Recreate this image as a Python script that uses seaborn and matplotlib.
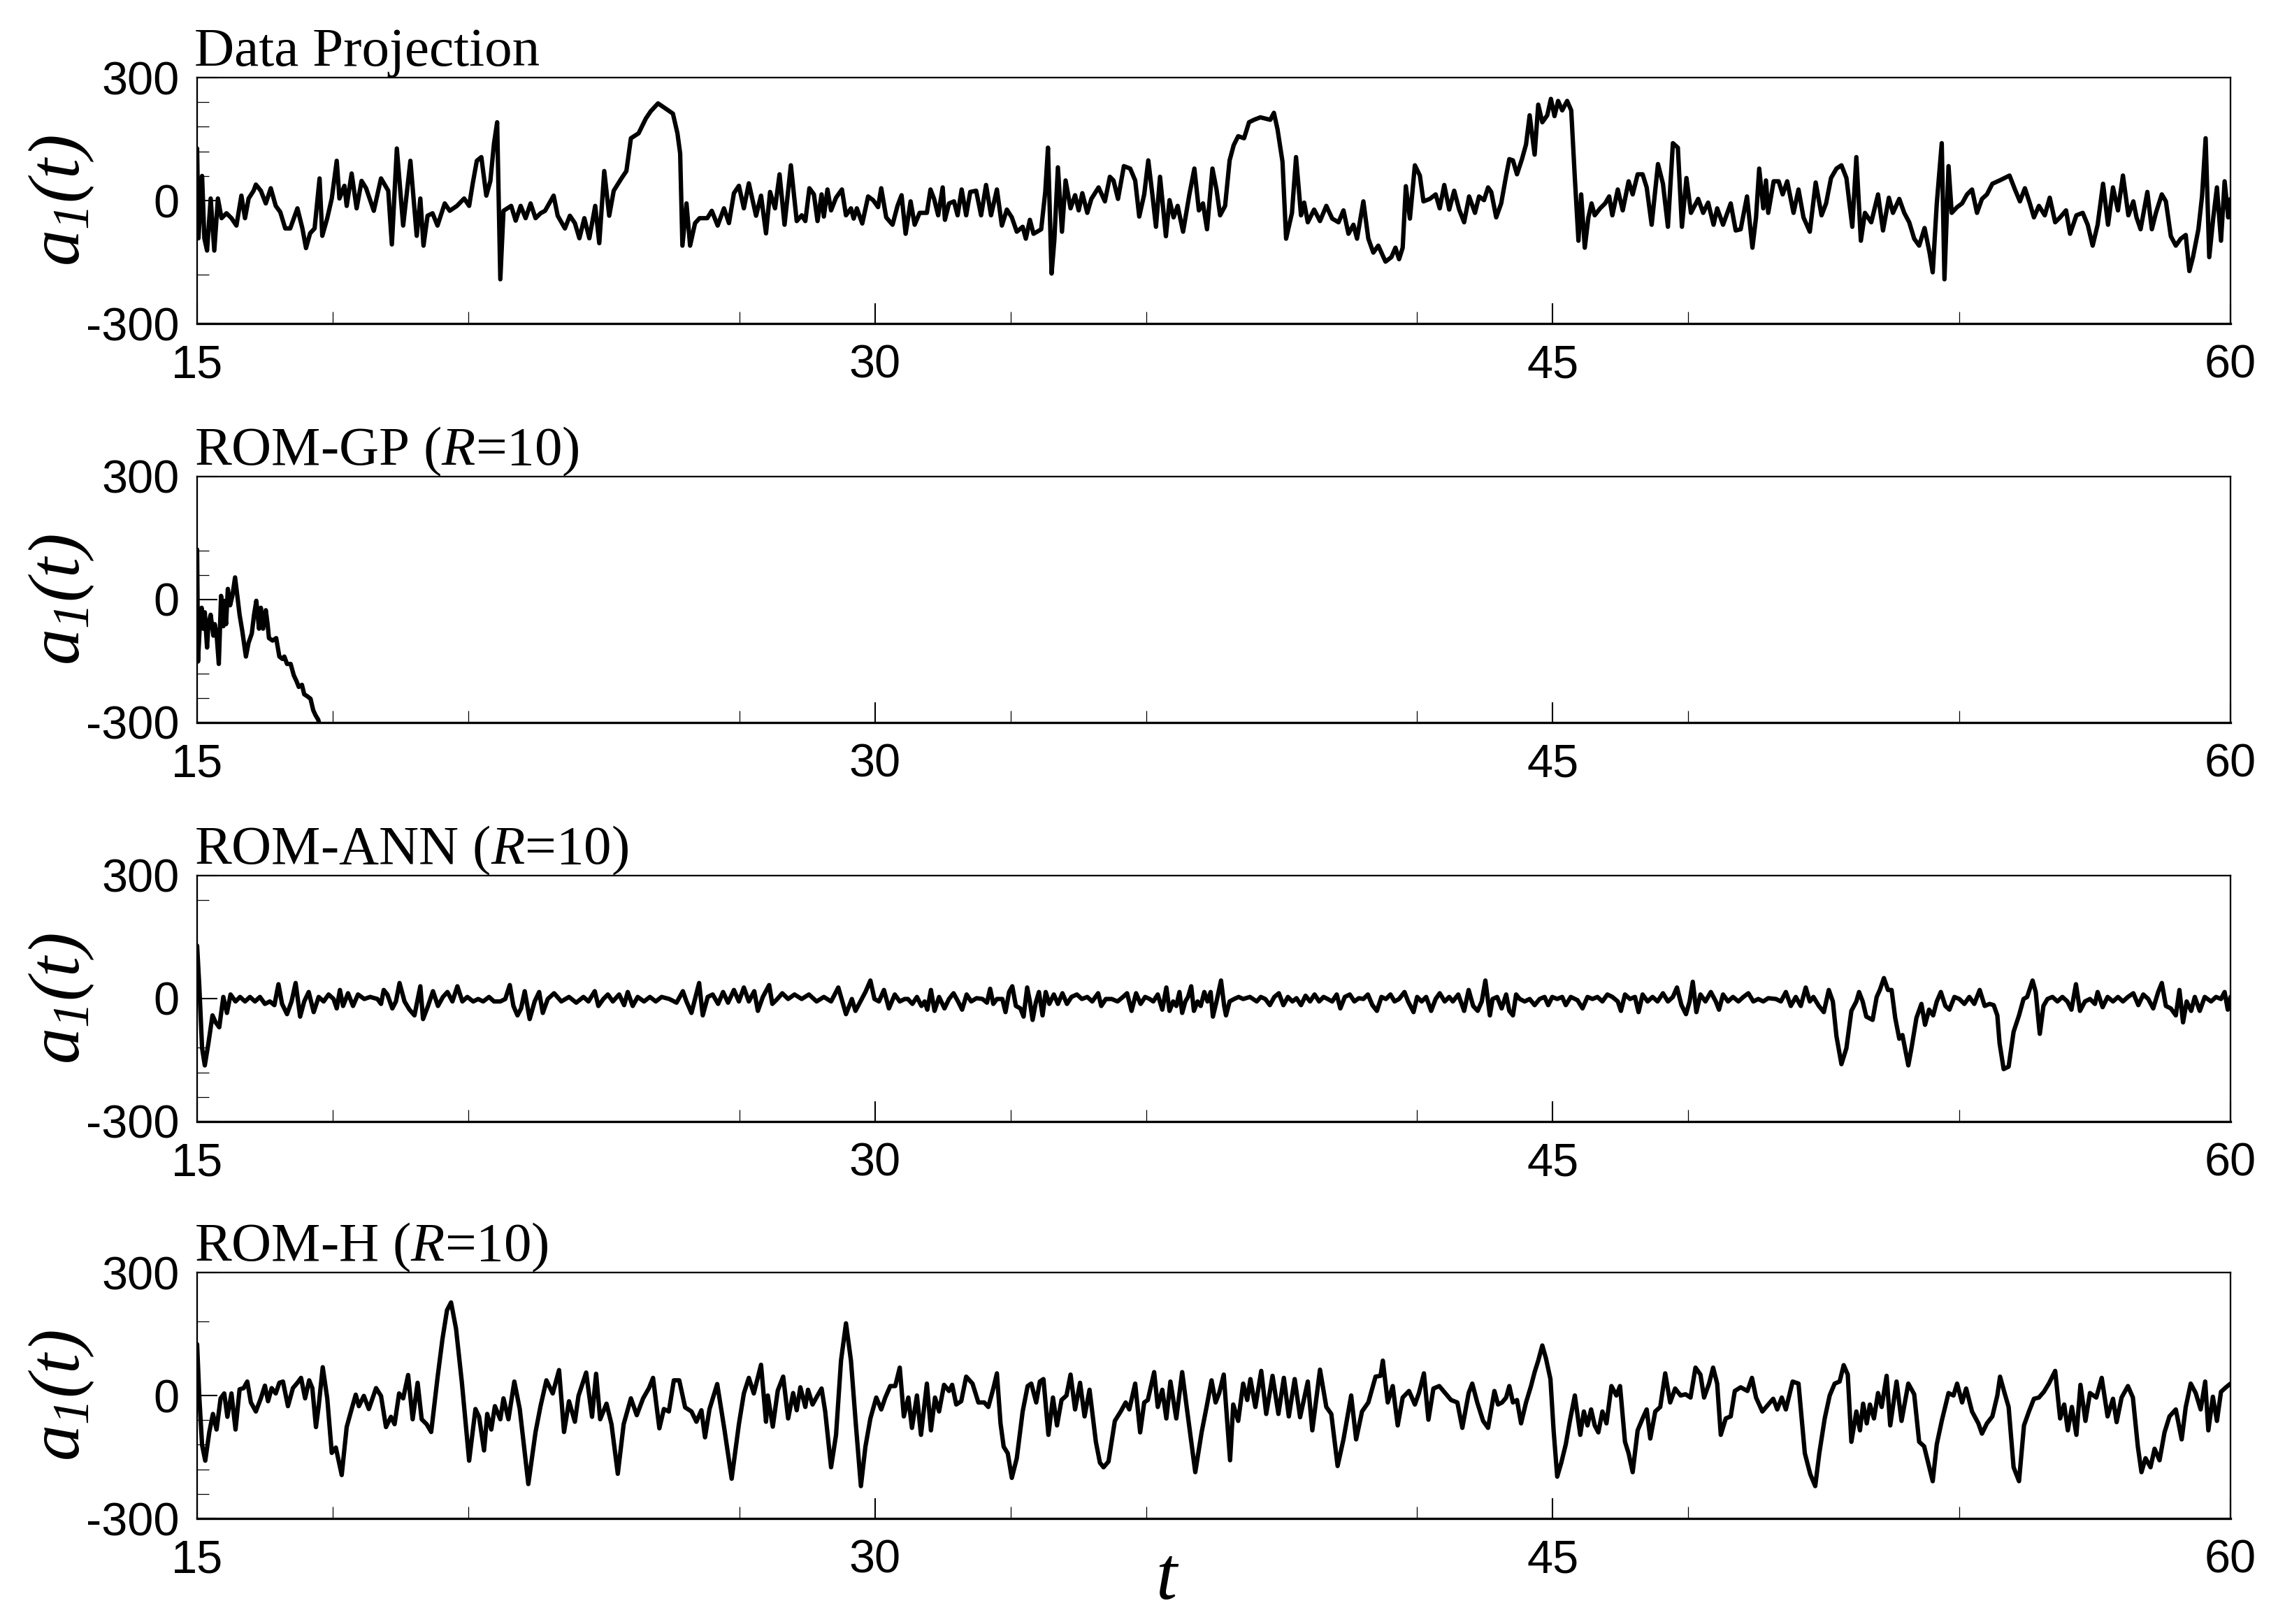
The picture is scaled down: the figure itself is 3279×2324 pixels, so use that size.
import matplotlib
matplotlib.use("Agg")
import matplotlib.pyplot as plt
import seaborn as sns

# ---------------- data ----------------
panel_titles = ["Data Projection", r"ROM-GP ($R$=10)", r"ROM-ANN ($R$=10)", r"ROM-H ($R$=10)"]
x_major = [15, 30, 45, 60]
x_minor = [18, 21, 27, 33, 36, 42, 48, 54]
y_major = [-300, 0, 300]
y_tick_labels = ["-300", "0", "300"]
y_minor_p1 = [240, 180, 120, 60, -180]
y_minor_p2 = [120, 60, -180, -240]
y_minor_p3 = [240, -120, -180, -240]
y_minor_p4 = [180, -60, -120, -180, -240]

# Panel 1: Data Projection
t_dp = [15.00, 15.03, 15.11, 15.16, 15.22, 15.30, 15.38, 15.46, 15.54, 15.65,
        15.76, 15.87, 15.98, 16.06, 16.14, 16.25, 16.30, 16.41, 16.52, 16.63,
        16.74, 16.84, 16.95, 17.06, 17.22, 17.33, 17.41, 17.50, 17.60, 17.71,
        17.77, 17.88, 17.98, 18.09, 18.15, 18.26, 18.31, 18.42, 18.53, 18.64,
        18.74, 18.91, 19.07, 19.23, 19.31, 19.42, 19.56, 19.72, 19.86, 19.94,
        20.01, 20.10, 20.21, 20.32, 20.48, 20.59, 20.75, 20.91, 21.02, 21.10,
        21.19, 21.29, 21.40, 21.49, 21.57, 21.64, 21.71, 21.78, 21.95, 22.05,
        22.16, 22.27, 22.38, 22.49, 22.60, 22.70, 22.89, 22.98, 23.14, 23.25,
        23.36, 23.46, 23.57, 23.68, 23.81, 23.90, 24.01, 24.12, 24.22, 24.39,
        24.50, 24.60, 24.77, 24.93, 25.04, 25.20, 25.36, 25.53, 25.63, 25.69,
        25.74, 25.83, 25.91, 26.02, 26.12, 26.29, 26.39, 26.52, 26.66, 26.77,
        26.88, 26.99, 27.10, 27.21, 27.37, 27.48, 27.59,
        27.68, 27.79, 27.89, 28.00, 28.14, 28.27, 28.38, 28.46, 28.55, 28.65,
        28.73, 28.82, 28.87, 28.95, 29.03, 29.14, 29.27, 29.36, 29.47, 29.53,
        29.60, 29.72, 29.85, 29.96, 30.07, 30.14, 30.25, 30.39, 30.50, 30.59,
        30.68, 30.79, 30.88, 30.99, 31.15, 31.23, 31.31, 31.40, 31.50, 31.55,
        31.64, 31.75, 31.83, 31.92, 32.02, 32.11, 32.24, 32.35, 32.46, 32.57,
        32.70, 32.81, 32.92, 33.03, 33.14, 33.27, 33.34, 33.43, 33.51, 33.59,
        33.68, 33.77, 33.83, 33.91, 33.97, 34.05, 34.14, 34.22, 34.33, 34.43,
        34.51, 34.59, 34.70, 34.79, 34.95, 35.09, 35.20, 35.28, 35.38, 35.51,
        35.65, 35.76, 35.85, 35.96, 36.05, 36.14, 36.22, 36.31, 36.44, 36.52,
        36.61, 36.70, 36.82, 36.96, 37.07, 37.17, 37.26, 37.35, 37.47, 37.56,
        37.64, 37.75, 37.85, 37.94, 38.04, 38.17, 38.28, 38.39, 38.53, 38.64,
        38.75, 38.83, 38.91, 39.02, 39.10, 39.23, 39.32, 39.43, 39.50, 39.58,
        39.72, 39.85, 39.99, 40.12, 40.26, 40.37, 40.48, 40.59, 40.67, 40.81,
        40.92, 41.03, 41.14, 41.30, 41.43, 41.52, 41.60, 41.68, 41.75, 41.84,
        41.95, 42.06, 42.14, 42.28, 42.41, 42.50, 42.60, 42.71, 42.82, 42.93,
        43.04, 43.15, 43.28, 43.37, 43.48, 43.57, 43.64, 43.75, 43.86,
        43.97, 44.04, 44.12, 44.21, 44.32, 44.41, 44.49, 44.60, 44.68, 44.77,
        44.88, 44.96, 45.04, 45.12, 45.21, 45.32, 45.41, 45.49, 45.57, 45.63,
        45.71, 45.79, 45.86, 45.93, 46.05, 46.16, 46.25, 46.32, 46.44, 46.55,
        46.68, 46.77, 46.88, 46.99, 47.08, 47.19, 47.33, 47.44, 47.55, 47.66,
        47.77, 47.86, 47.96, 48.06, 48.22, 48.33, 48.44, 48.56, 48.64, 48.77,
        48.94, 49.05, 49.16, 49.30, 49.42, 49.50, 49.57, 49.66, 49.72, 49.77,
        49.89, 50.00, 50.09, 50.19, 50.33, 50.44, 50.55, 50.69, 50.82, 50.95,
        51.05, 51.16, 51.28, 51.39, 51.50, 51.63, 51.72, 51.82, 51.91, 52.05,
        52.20, 52.31, 52.44, 52.53, 52.67, 52.78, 52.89, 53.00, 53.11, 53.23,
        53.34, 53.41, 53.50, 53.61, 53.67, 53.76, 53.83, 53.95, 54.06, 54.17,
        54.28, 54.39, 54.50, 54.61, 54.73, 54.89, 55.00, 55.11, 55.23, 55.34,
        55.45, 55.56, 55.65, 55.76, 55.89, 56.00, 56.12, 56.23, 56.36, 56.45,
        56.59, 56.73, 56.84, 56.95, 57.06, 57.18, 57.29, 57.40, 57.51, 57.62,
        57.74, 57.85, 57.92, 58.01, 58.16, 58.26, 58.35, 58.48, 58.57, 58.68,
        58.79, 58.90, 59.01, 59.09, 59.17, 59.29, 59.37, 59.45, 59.53, 59.62,
        59.70, 59.79, 59.87, 59.95, 60.00]
a_dp = [127, -92, 60, -92, -122, 5, -122, 5, -43, -31,
        -43, -61, 12, -43, 5, 24, 39, 24, -7, 30,
        -13, -28, -68, -68, -19, -68, -116, -80, -68, 54,
        -86, -43, 5, 97, 5, 36, -13, 66, -19, 48,
        30, -25, 54, 24, -107, 127, -61, 97, -86, 5,
        -110, -37, -31, -61, -7, -25, -13, 5, -13, 42,
        97, 106, 12, 48, 139, 191, -192, -25, -13, -49,
        -13, -43, -7, -43, -31, -25, 12, -37, -68, -37,
        -55, -92, -43, -92, -13, -104, 72, -37, 24, 54,
        72, 152, 164, 200, 218, 237, 225, 212, 164, 115,
        -110, -7, -110, -55, -43, -43, -25, -61, -19, -55,
        18, 36, -19, 42, -37, 12, -80,
        21, -19, 64, -59, 86, -50, -36, -50, 30, 15,
        -50, 15, -39, 27, -24, 7, 27, -36, -19, -44,
        -19, -56, 10, 1, -16, 30, -41, -59, -13, 13,
        -81, -2, -59, -30, -30, 27, 4, -36, 32, -47,
        -7, -2, -36, 27, -36, 21, 24, -36, 38, -36,
        27, -61, -22, -41, -76, -64, -93, -47, -81, -76,
        -70, 21, 129, -178, -98, 81, -76, 49, -19, 13,
        -24, 18, -30, 4, 32, -2, 58, 49, 4, 84,
        78, 49, -39, 15, 98, 15, -64, 58, -87, 1,
        -41, -13, -76, 15, 78, -24, -7, -70, 78, 27,
        -36, -13, 98, 135, 157, 152, 191, 197, 203, 200,
        197, 214, 174, 95, -93, -30, 106, -36, -5, -53,
        -22, -50, -13, -44, -53, -24, -81, -59, -93, -2,
        -93, -127, -110, -149, -138, -115, -143, -115, 35, -44,
        86, 61, -2, 4, 15, -19, 38, -22, 24, -22,
        -53, 10, -30, 10, 1, 32, 21, -41, -7,
        61, 101, 98, 64, 101, 137, 208, 112, 234, 191,
        208, 248, 206, 243, 220, 243, 220, 55, -98, 15,
        -115, -41, -7, -36, -19, -7, 10, -36, 27, -24,
        47, 15, 64, 64, 32, -59, 89, 41, -64, 140,
        129, -64, 55, -30, 4, -30, -5, -59, -19, -59,
        -7, -73, -70, 10, -115, -41, 78, -19, 49, -30,
        47, 47, 15, 47, -30, 27, -41, -76, 44, -36,
        -7, 55, 78, 86, 55, -64, 106, -98, -30, -53,
        15, -73, 7, -30, 4, -30, -53, -93, -110, -67,
        -127, -175, -7, 140, -192, 84, -30, -16, -7, 15,
        27, -30, 4, 15, 41, 49, 55, 61, 27, -2,
        30, -7, -41, -13, -36, 7, -53, -41, -24, -81,
        -36, -30, -59, -110, -59, 41, -59, 32, -24, 61,
        -36, -2, -41, -70, 21, -70, -30, 15, -2, -87,
        -110, -93, -84, -172, -138, -70, 10, 152, -138, -41,
        32, -98, 47, -41, 4]

# Panel 2: ROM-GP (diverges below -300)
t_gp = [15.00, 15.02, 15.06, 15.10, 15.13, 15.17, 15.22, 15.25, 15.30, 15.36,
        15.39, 15.43, 15.48, 15.53, 15.58, 15.60, 15.64, 15.68, 15.73, 15.78,
        15.84, 15.89, 15.94, 16.00, 16.08, 16.14, 16.21, 16.26, 16.31, 16.37,
        16.41, 16.46, 16.52, 16.56, 16.59, 16.67, 16.75, 16.82, 16.89, 16.93,
        16.99, 17.07, 17.14, 17.20, 17.25, 17.32, 17.37, 17.44, 17.51, 17.57,
        17.62, 17.68, 17.72]
a_gp = [122, -151, -60, -20, -71, -31, -117, -60, -37, -88,
        -60, -83, -157, 9, -65, -3, -60, 26, -14, 9,
        54, 9, -37, -77, -139, -105, -83, -37, -3, -71,
        -20, -71, -26, -60, -94, -100, -94, -139, -145, -139,
        -157, -157, -185, -199, -213, -208, -231, -236, -242, -270,
        -282, -293, -310]

# Panel 3: ROM-ANN
t_ann = [15.00, 15.05, 15.11, 15.17, 15.25, 15.34, 15.41, 15.49, 15.58, 15.66,
         15.74, 15.85, 15.95, 16.06, 16.17, 16.28, 16.39, 16.50, 16.61, 16.71,
         16.80, 16.88, 16.99, 17.09, 17.18, 17.28, 17.37, 17.47, 17.58, 17.69,
         17.80, 17.91, 18.02, 18.09, 18.16, 18.23, 18.34, 18.45, 18.56, 18.70,
         18.83, 18.99, 19.07, 19.13, 19.21, 19.32, 19.40, 19.48, 19.59, 19.70,
         19.81, 19.94, 20.00, 20.11, 20.22, 20.33, 20.44, 20.54, 20.65, 20.76,
         20.87, 20.98, 21.11, 21.22, 21.33, 21.46, 21.57, 21.71, 21.82, 21.92,
         22.00, 22.09, 22.17, 22.25, 22.36, 22.47, 22.57, 22.65, 22.76, 22.90,
         23.06, 23.23, 23.39, 23.55, 23.66, 23.80, 23.88, 23.99, 24.09, 24.20,
         24.34, 24.45, 24.53, 24.64, 24.75, 24.89, 25.02, 25.15, 25.28, 25.45,
         25.61, 25.75, 25.83, 25.94, 26.02, 26.11, 26.19, 26.30, 26.41, 26.53,
         26.64, 26.75, 26.88, 26.99, 27.10, 27.21, 27.33, 27.41, 27.52, 27.66,
         27.73, 27.84, 27.95, 28.08, 28.22, 28.38, 28.54, 28.71, 28.87, 29.03,
         29.19, 29.36, 29.49, 29.57, 29.68, 29.79, 29.90, 29.99, 30.09, 30.20,
         30.31, 30.44, 30.55, 30.66,
         30.73, 30.83, 30.93, 31.03, 31.10, 31.16, 31.24, 31.32, 31.42, 31.54,
         31.64, 31.74, 31.84, 31.93, 32.03, 32.13, 32.25, 32.38, 32.48, 32.55,
         32.62, 32.70, 32.82, 32.89, 32.97, 33.04, 33.12, 33.22, 33.29, 33.37,
         33.43, 33.49, 33.56, 33.63, 33.71, 33.78, 33.86, 33.96, 34.05, 34.15,
         34.25, 34.35, 34.47, 34.58, 34.70, 34.81, 34.94, 35.01, 35.11, 35.24,
         35.37, 35.49, 35.58, 35.68, 35.78, 35.88, 35.98, 36.08, 36.16, 36.26,
         36.36, 36.45, 36.52, 36.60, 36.67, 36.74, 36.80, 36.87, 36.93, 37.00,
         37.06, 37.14, 37.21, 37.29, 37.36, 37.43, 37.48, 37.56, 37.66, 37.73,
         37.77, 37.85, 37.95, 38.05, 38.15, 38.30, 38.45, 38.54, 38.64, 38.74,
         38.84, 38.94, 39.04, 39.14, 39.24, 39.33, 39.43, 39.53, 39.63, 39.73,
         39.83, 39.93, 40.02, 40.12, 40.22, 40.30, 40.40, 40.51, 40.61, 40.71,
         40.81, 40.91, 41.01, 41.11, 41.21, 41.31, 41.41, 41.50, 41.60, 41.72,
         41.80, 41.92, 42.00, 42.10, 42.20, 42.31, 42.41, 42.50, 42.61, 42.71,
         42.79, 42.91, 43.04, 43.14, 43.24, 43.34, 43.43, 43.51, 43.61, 43.67,
         43.77, 43.87,
         43.97, 44.04, 44.12, 44.19, 44.27, 44.38, 44.49, 44.60, 44.71, 44.82,
         44.90, 44.99, 45.10, 45.21, 45.29, 45.40, 45.55, 45.66, 45.77, 45.88,
         45.99, 46.10, 46.21, 46.32, 46.44, 46.51, 46.60, 46.71, 46.82, 46.90,
         46.99, 47.10, 47.21, 47.32, 47.44, 47.55, 47.66, 47.75, 47.85, 47.95,
         48.03, 48.10, 48.18, 48.27, 48.38, 48.50, 48.61, 48.68, 48.77, 48.88,
         48.99, 49.11, 49.22, 49.33, 49.44, 49.55, 49.66, 49.77, 49.94, 50.05,
         50.16, 50.27, 50.38, 50.49, 50.60, 50.69, 50.77, 50.89, 51.00, 51.11,
         51.20, 51.28, 51.39, 51.50, 51.61, 51.72, 51.78, 51.86, 51.94, 52.08,
         52.17, 52.24, 52.33, 52.42, 52.50, 52.58, 52.67, 52.74, 52.87, 52.94,
         53.05, 53.16, 53.24, 53.33, 53.42, 53.50, 53.59, 53.69, 53.78, 53.89,
         54.00, 54.11, 54.22, 54.33, 54.45, 54.56, 54.67, 54.76, 54.84, 54.89,
         54.98, 55.09, 55.20, 55.32, 55.42, 55.50, 55.62, 55.69, 55.78, 55.86,
         55.95, 56.06, 56.17, 56.28, 56.39, 56.48, 56.58, 56.67, 56.78, 56.89,
         57.00, 57.06, 57.17, 57.28, 57.40, 57.51, 57.62, 57.73, 57.85, 57.96,
         58.07, 58.18, 58.29, 58.40, 58.48, 58.57, 58.68, 58.79, 58.87, 58.95,
         59.03, 59.13, 59.21, 59.32, 59.43, 59.57, 59.68, 59.79, 59.87, 59.94,
         60.00]
a_ann = [129, 27, -121, -163, -109, -41, -58, -70, 4, -35,
         10, -7, 4, -7, 4, -7, 4, -13, -7, -16,
         35, -13, -38, -7, 38, -44, -7, 16, -33, 4,
         -7, 10, -1, -24, 21, -18, 13, -18, 10, -1,
         4, -1, -13, 21, 10, -24, -7, 38, -7, -27,
         -41, 30, -50, -18, 18, -18, 4, 16, -7, 30,
         -7, 4, -7, -1, -7, 4, -7, -7, -1, 33,
         -18, -41, -24, 18, -50, -7, 16, -35, -1, 13,
         -7, 4, -10, 4, -7, 18, -18, -1, 10, -7,
         10, -16, 16, -18, 4, -7, 4, -7, 4, -1,
         -10, 18, -7, -35, -1, 38, -41, 4, 10, -13,
         16, -10, 21, -7, 27, -7, 18, -30, 4, 33,
         -13, -1, 13, -1, 10, -1, 10, -7, 4, -7,
         27, -38, -1, -30, -7, 16, 44, -1, -7, 21,
         -24, 10, -7, -1,
         -1, -13, 4, -18, -7, -27, 21, -30, 4, -24,
         -1, 13, -7, -27, 10, -7, 1, -1, -10, 24,
         -13, -1, -1, -33, 16, 30, -18, -24, -44, 27,
         -7, -52, -10, 16, -41, 16, -13, 10, -13, 13,
         -13, 4, 10, -1, 4, -7, 13, -18, -1, -1,
         -7, 4, 13, -30, 13, -13, 4, -1, -7, 10,
         -27, 27, -30, -7, -18, 16, -35, -7, 4, 30,
         -30, -7, -18, 16, -7, 16, -44, -7, 44, -18,
         -41, -7, -1, 4, -1, 4, -7, 4, -1, -16,
         4, 13, -16, 4, -7, 1, -16, 7, -7, 10,
         -7, 4, -1, -7, 10, -24, 4, 10, -7, 1,
         -1, 10, -16, -30, 4, -1, 10, -7, -1, 16,
         -7, -33, 4, -7, 4, -30, -1, 13, -7, 4,
         -7, 10, -30, 21, -18, -30, -7, 44, -41, -1,
         4, -24,
         10, -30, -41, 10, -1, -7, -1, -16, -1, 4,
         -16, 4, -1, 4, -16, 4, -4, -24, 4, -1,
         4, -7, 10, 4, -7, -30, 10, -1, 4, -33,
         10, -7, 4, -7, 13, -7, 4, 27, -16, -38,
         -7, 41, -33, 10, -7, 16, -7, -27, 10, -7,
         4, -7, 4, 13, -7, -1, -7, 1, -1, -7,
         16, -18, 4, -18, 27, -7, 4, -18, -33, 21,
         -7, -92, -160, -121, -30, -7, 16, -7, -44, -52,
         4, 21, 50, 21, 21, -47, -98, -89, -163, -121,
         -47, -13, -64, -27, -41, -7, 16, -18, -27, 4,
         -1, -13, 4, -13, 21, -18, -13, -16, -41, -109,
         -172, -166, -81, -41, -1, 4, 44, 16, -86, -18,
         -1, 4, -7, 4, -7, -27, 35, -30, -7, -1,
         -13, 16, -21, 4, -7, 4, -7, 4, 13, -16,
         10, -1, -24, 16, 38, -18, -24, -41, 21, -58,
         -7, -30, 4, -30, 4, -7, 4, -1, 16, -27,
         4]

# Panel 4: ROM-H
t_h = [15.00, 15.05, 15.11, 15.18, 15.27, 15.35, 15.43, 15.52, 15.60, 15.67,
       15.76, 15.85, 15.94, 16.03, 16.11, 16.19, 16.30, 16.41, 16.50, 16.57,
       16.65, 16.74, 16.82, 16.90, 17.01, 17.12, 17.22, 17.30, 17.39, 17.48,
       17.55, 17.63, 17.69, 17.78, 17.88, 17.98, 18.07, 18.20, 18.31, 18.42,
       18.51, 18.58, 18.69, 18.80, 18.96, 19.07, 19.18, 19.29, 19.37, 19.47,
       19.56, 19.67, 19.77, 19.88, 19.97, 20.08, 20.18, 20.32, 20.43, 20.53,
       20.62, 20.73, 20.86, 21.02, 21.16, 21.24, 21.35, 21.42, 21.51, 21.59,
       21.71, 21.78, 21.89, 22.02, 22.14, 22.33, 22.49, 22.60, 22.73, 22.87,
       23.01, 23.12, 23.23, 23.36, 23.44, 23.61, 23.74, 23.83, 23.92, 24.06,
       24.17, 24.31, 24.44, 24.60, 24.73, 24.87, 25.00, 25.09, 25.23, 25.33,
       25.44, 25.55, 25.67, 25.80, 25.94, 26.05, 26.16, 26.24, 26.34, 26.51,
       26.67, 26.83, 26.99, 27.10, 27.21, 27.32, 27.48, 27.59,
       27.63, 27.74, 27.85, 27.97, 28.08, 28.19, 28.27, 28.35, 28.46, 28.52,
       28.62, 28.73, 28.82, 28.90, 29.03, 29.14, 29.25, 29.36, 29.47, 29.58,
       29.69, 29.79, 29.90, 30.03, 30.14, 30.23, 30.34, 30.45, 30.55, 30.64,
       30.74, 30.82, 30.93, 31.02, 31.15, 31.24, 31.33, 31.42, 31.53, 31.64,
       31.71, 31.80, 31.91, 32.02, 32.16, 32.29, 32.42, 32.51, 32.62, 32.70,
       32.78, 32.85, 32.94, 33.03, 33.14, 33.27, 33.38, 33.46, 33.57, 33.65,
       33.73, 33.84, 33.94, 34.03, 34.13, 34.24, 34.33, 34.43, 34.54, 34.64,
       34.75, 34.89, 34.98, 35.06, 35.17, 35.31, 35.44, 35.55, 35.63, 35.76,
       35.87, 35.96, 36.04, 36.18, 36.26, 36.36, 36.45, 36.54, 36.67, 36.80,
       36.90, 37.09, 37.23, 37.34, 37.45, 37.54, 37.62, 37.72, 37.86, 37.93,
       38.04, 38.15, 38.24, 38.31, 38.42, 38.55, 38.66, 38.80, 38.93, 39.05,
       39.16, 39.29, 39.41, 39.58, 39.68, 39.85, 39.99, 40.10, 40.24, 40.37,
       40.54, 40.65, 40.78, 40.92, 41.08, 41.19, 41.24, 41.35, 41.46, 41.57,
       41.68, 41.82, 41.95, 42.04, 42.15, 42.25, 42.36, 42.49, 42.62, 42.75,
       42.89, 43.00, 43.14, 43.22, 43.33, 43.46, 43.57, 43.71, 43.79,
       43.88, 43.97, 44.04, 44.12, 44.21, 44.30, 44.41, 44.52, 44.60, 44.68,
       44.77, 44.85, 44.95, 45.02, 45.10, 45.19, 45.29, 45.38, 45.49, 45.61,
       45.69, 45.77, 45.85, 45.93, 46.01, 46.10, 46.19, 46.30, 46.41, 46.49,
       46.60, 46.68, 46.77, 46.88, 46.99, 47.08, 47.16, 47.27, 47.38, 47.49,
       47.60, 47.71, 47.83, 47.94, 48.05, 48.16, 48.27, 48.35, 48.46, 48.55,
       48.64, 48.72, 48.83, 48.94, 49.03, 49.16, 49.31, 49.41, 49.50, 49.64,
       49.77, 49.88, 49.97, 50.07, 50.16, 50.31, 50.44, 50.58, 50.70, 50.81,
       50.90, 51.02, 51.13, 51.24, 51.35, 51.44, 51.53, 51.61, 51.72, 51.80,
       51.87, 51.95, 52.02, 52.11, 52.20, 52.28, 52.39, 52.47, 52.61, 52.72,
       52.87, 53.00, 53.11, 53.22, 53.31, 53.41, 53.50, 53.61, 53.76, 53.87,
       53.95, 54.06, 54.15, 54.28, 54.42, 54.50, 54.61, 54.73, 54.84, 54.90,
       55.00, 55.09, 55.20, 55.32, 55.43, 55.54, 55.65, 55.76, 55.87, 55.98,
       56.12, 56.23, 56.32, 56.40, 56.49, 56.59, 56.68, 56.79, 56.89, 57.03,
       57.15, 57.28, 57.40, 57.48, 57.59, 57.73, 57.84, 57.95, 58.03, 58.12,
       58.23, 58.32, 58.43, 58.54, 58.65, 58.79, 58.92, 59.01, 59.12, 59.23,
       59.34, 59.44, 59.51, 59.61, 59.70, 59.79, 59.90, 60.00]
a_h = [125, -7, -121, -159, -89, -45, -83, -7, 5, -52,
       5, -83, 15, 18, 34, -17, -39, -7, 24, -14,
       18, 5, 31, 34, -26, 18, 31, 43, -7, 37,
       18, -77, -26, 69, -7, -140, -127, -194, -77, -33,
       2, -26, -1, -33, 18, -1, -77, -52, -70, 5,
       -7, 50, -58, 31, -58, -70, -89, 43, 138, 208,
       227, 163, 31, -159, -33, -52, -134, -45, -83, -26,
       -58, -7, -58, 34, -33, -216, -89, -26, 37, 5,
       62, -89, -14, -64, -1, 56, -52, 53, -58, -20,
       -70, -191, -70, -7, -48, -7, 18, 43, -80, -33,
       -39, 37, 37, -29, -39, -64, -36, -102, -33, 28,
       -83, -203, -70, 5, 43, 5, 75, -64,
       0, -76, 12, 46, -56, 6, -36, 20, -28, 14,
       -22, 0, 17, -39, -175, -96, 85, 176, 85, -73,
       -221, -125, -56, -5, -34, -5, 23, 23, 68, -51,
       -5, -79, 0, -96, 29, -85, -5, -39, 26, 11,
       26, -22, -14, 46, 29, -17, -17, -28, 17, 54,
       -68, -125, -141, -201, -153, -39, 23, 29, -17, 34,
       40, -96, -5, -73, -11, 0, 51, -34, 31, -51,
       14, -113, -164, -175, -161, -62, -39, -17, -34, 29,
       -90, -17, -11, 57, -28, 14, -56, 34, -56, 57,
       -28, -187, -90, -28, 37, -17, 6, 51, -158, -22,
       -62, 29, -11, 40, -28, 60, -45, 48, -45, 43,
       -51, 40, -53, 34, -85, 63, -28, -45, -172, -107,
       0, -107, -39, -17, 46, 48, 85, -17, 23, -73,
       -5, 11, -22, 6, 54, -59, 17, 23, 6, -11,
       -17, -79, 6, 29, -17, -62, -79, 11, -22,
       -17, -5, 23, -17, -11, -68, -17, 23, 57, 85,
       122, 91, 40, -85, -198, -164, -119, -62, 0, -96,
       -39, -73, -34, -73, -90, -39, -68, 23, 0, 23,
       -113, -141, -187, -85, -56, -34, -105, -39, -28, 54,
       -17, 17, 0, 3, -5, 68, 51, -5, 29, 68,
       29, -96, -56, -51, 11, 20, 11, 43, -5, -39,
       -22, -8, -34, -5, -34, 34, 29, -141, -192, -221,
       -141, -56, 0, 29, 34, 74, 51, -113, -39, -85,
       -20, -68, -22, -56, 6, -28, 48, -73, 34, -62,
       29, 3, -113, -124, -164, -209, -119, -62, 6, 0,
       29, -17, 17, -39, -68, -93, -68, -51, 0, 46,
       6, -28, -175, -209, -73, -39, -8, -5, 9, 29,
       60, -56, -22, -85, -28, -96, 26, -62, 6, -5,
       43, -51, -8, -65, -5, 23, -5, -125, -187, -153,
       -175, -130, -158, -90, -51, -34, -107, -28, 29, 6,
       -34, 34, -85, -3, -62, 9, 20, 29]

panels = [
    (t_dp, a_dp, y_minor_p1),
    (t_gp, a_gp, y_minor_p2),
    (t_ann, a_ann, y_minor_p3),
    (t_h, a_h, y_minor_p4),
]

# ---------------- style ----------------
sns.set_theme(style="white")
plt.rcParams["font.family"] = ["Liberation Sans", "DejaVu Sans"]
plt.rcParams["mathtext.fontset"] = "custom"
plt.rcParams["mathtext.rm"] = "Liberation Serif:italic"
plt.rcParams["mathtext.it"] = "Liberation Serif:italic"

W, H = 3279, 2324
DPI = 300
fig = plt.figure(figsize=(W / DPI, H / DPI), dpi=DPI, facecolor="white")

left = 282 / W
width = (3191 - 282) / W
height = 352 / H
bottoms_px = [463, 1034, 1605, 2173]

for i, ((tt, aa, yminor), title) in enumerate(zip(panels, panel_titles)):
    ax = fig.add_axes([left, 1 - bottoms_px[i] / H, width, height])
    ax.set_facecolor("white")
    n = min(len(tt), len(aa))
    sns.lineplot(x=tt[:n], y=aa[:n], ax=ax, color="black", linewidth=1.5,
                 estimator=None, sort=False)
    ax.set_xlim(15, 60)
    ax.set_ylim(-300, 300)
    ax.set_xticks(x_major)
    ax.set_xticklabels([str(v) for v in x_major])
    ax.set_xticks(x_minor, minor=True)
    ax.set_yticks(y_major)
    ax.set_yticklabels(y_tick_labels)
    ax.set_yticks(yminor, minor=True)
    ax.set_xlabel("")
    ax.set_ylabel("")
    ax.tick_params(axis="both", which="both", direction="in",
                   bottom=True, left=True, top=False, right=False,
                   colors="black", labelcolor="black")
    ax.tick_params(axis="both", which="major", length=7, width=0.5, labelsize=16)
    ax.tick_params(axis="both", which="minor", length=4, width=0.3)
    ax.tick_params(axis="x", which="major", pad=7)
    ax.tick_params(axis="y", which="major", pad=6)
    for s in ["top", "left", "right"]:
        ax.spines[s].set_linewidth(0.55)
        ax.spines[s].set_color("black")
    ax.spines["bottom"].set_linewidth(0.8)
    ax.spines["bottom"].set_color("black")

    ax.text(-0.0014, 1.048, title, transform=ax.transAxes, fontsize=19,
            family="Liberation Serif", ha="left", va="baseline", color="black")
    ax.text(-0.0667, 0.5, r"$a_1(t)$", transform=ax.transAxes, fontsize=25,
            rotation=90, ha="center", va="center", color="black")

fig.text(1670 / W, 1 - 2260 / H, r"$t$", fontsize=26, ha="center", va="center",
         color="black")

fig.savefig("out.png", dpi=DPI, facecolor="white")
